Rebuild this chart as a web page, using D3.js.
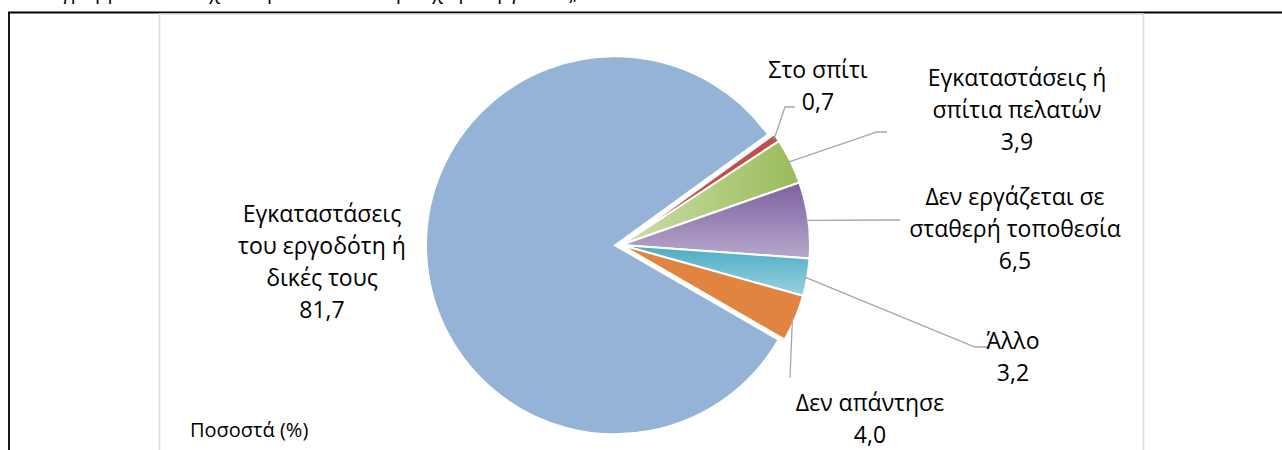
<!DOCTYPE html>
<html>
<head>
<meta charset="utf-8">
<script src="https://cdn.jsdelivr.net/npm/d3@7"></script>
<style>
  body { margin: 0; background: #fff; }
  svg text { font-family: "Open Sans", "Noto Sans", sans-serif; fill: #000; }
</style>
</head>
<body>
<div id="chart"></div>
<script>
// data (order as drawn, clockwise from the first slice)
var categories = [
  "Εγκαταστάσεις του εργοδότη ή δικές τους",
  "Στο σπίτι",
  "Εγκαταστάσεις ή σπίτια πελατών",
  "Δεν εργάζεται σε σταθερή τοποθεσία",
  "Άλλο",
  "Δεν απάντησε"
];
var values = [81.7, 0.7, 3.9, 6.5, 3.2, 4.0];
// how each category label is broken into lines
var labelLines = [
  ["Εγκαταστάσεις", "του εργοδότη ή", "δικές τους"],
  ["Στο σπίτι"],
  ["Εγκαταστάσεις ή", "σπίτια πελατών"],
  ["Δεν εργάζεται σε", "σταθερή τοποθεσία"],
  ["Άλλο"],
  ["Δεν απάντησε"]
];
var unitLabel = "Ποσοστά (%)";
var titleText = "Διάγραμμα 4: Απασχολούμενοι κατά κύριο χώρο εργασίας, 2022";

// layout
var W = 1282, H = 450;
var cx = 621, cy = 245, R = 189;
var firstAngle = 120; // degrees, first slice starts here
var explode = [6, 0, 0, 0, 0, 0];
var lineH = 32;
// label centre (x, y of first line) and leader end / tail length
var labelLayout = [
  {x: 322, y: 214, leader: false},
  {x: 818, y: 70, leader: true, ex: 795, ey: 107, tail: 10},
  {x: 1017, y: 78, leader: true, ex: 887, ey: 132, tail: 10},
  {x: 1015, y: 197, leader: true, ex: 900, ey: 220, tail: 10},
  {x: 1013, y: 341, leader: true, ex: 990, ey: 347, tail: 15},
  {x: 870, y: 403, leader: true, ex: 790, ey: 378, tail: 0}
];

var fills = ["#95b3d7", "#c0504d", "url(#gGreen)", "url(#gPurple)", "url(#gCyan)", "#e0843f"];

var fmt = d3.formatLocale({decimal: ",", thousands: ".", grouping: [3], currency: ["", "€"]}).format(".1f");

var svg = d3.select("#chart").append("svg")
  .attr("width", W)
  .attr("height", H);

var defs = svg.append("defs");
function grad(id, x2, y2, c1, c2) {
  var g = defs.append("linearGradient").attr("id", id)
    .attr("x1", 0).attr("y1", 0).attr("x2", x2).attr("y2", y2);
  g.append("stop").attr("offset", "0%").attr("stop-color", c1);
  g.append("stop").attr("offset", "100%").attr("stop-color", c2);
}
grad("gGreen", 1, 0, "#cddfab", "#9bbb59");
grad("gPurple", 0, 1, "#7d61a0", "#b7a7cb");
grad("gCyan", 0, 1, "#4aabc5", "#9ad2e0");

// cut-off title line above the table (only descenders show)
svg.append("text")
  .attr("x", 30)
  .attr("y", -1)
  .style("font-size", "20px")
  .text(titleText);

// table border
svg.append("line")
  .attr("x1", 8).attr("x2", W).attr("y1", 12.5).attr("y2", 12.5)
  .attr("stroke", "#000").attr("stroke-width", 1.8);
svg.append("line")
  .attr("x1", 9).attr("x2", 9).attr("y1", 12).attr("y2", H)
  .attr("stroke", "#000").attr("stroke-width", 1.8);

// chart area
svg.append("rect")
  .attr("x", 159.5).attr("y", 14)
  .attr("width", 984).attr("height", H)
  .attr("fill", "#fff")
  .attr("stroke", "#d9d9d9")
  .attr("stroke-width", 1.5);

var a0 = firstAngle * Math.PI / 180;
var pie = d3.pie().sort(null).value(function (d) { return d; })
  .startAngle(a0).endAngle(a0 + 2 * Math.PI);
var arcs = pie(values);
var arc = d3.arc().innerRadius(0).outerRadius(R);

var g = svg.append("g").attr("transform", "translate(" + cx + "," + cy + ")");

g.selectAll("path.slice")
  .data(arcs)
  .enter().append("path")
  .attr("class", "slice")
  .attr("d", arc)
  .attr("fill", function (d, i) { return fills[i]; })
  .attr("stroke", "#fff")
  .attr("stroke-width", 2)
  .attr("transform", function (d, i) {
    var m = (d.startAngle + d.endAngle) / 2;
    return "translate(" + (explode[i] * Math.sin(m)) + "," + (-explode[i] * Math.cos(m)) + ")";
  });

// leader lines
arcs.forEach(function (d, i) {
  var L = labelLayout[i];
  if (!L.leader) return;
  var m = (d.startAngle + d.endAngle) / 2;
  var sx = cx + (R - 3) * Math.sin(m);
  var sy = cy - (R - 3) * Math.cos(m);
  var pts = [[sx, sy], [L.ex - L.tail, L.ey], [L.ex, L.ey]];
  svg.append("path")
    .attr("d", d3.line()(pts))
    .attr("fill", "none")
    .attr("stroke", "#a6a6a6")
    .attr("stroke-width", 1.3);
});

// labels
arcs.forEach(function (d, i) {
  var L = labelLayout[i];
  var lines = labelLines[i].concat([fmt(values[i])]);
  var t = svg.append("text")
    .attr("text-anchor", "middle")
    .style("font-size", "23px");
  lines.forEach(function (s, k) {
    t.append("tspan")
      .attr("x", L.x)
      .attr("y", L.y + k * lineH)
      .attr("dy", "0.35em")
      .text(s);
  });
});

svg.append("text")
  .attr("x", 190)
  .attr("y", 430)
  .attr("dy", "0.35em")
  .style("font-size", "20px")
  .text(unitLabel);
</script>
</body>
</html>
